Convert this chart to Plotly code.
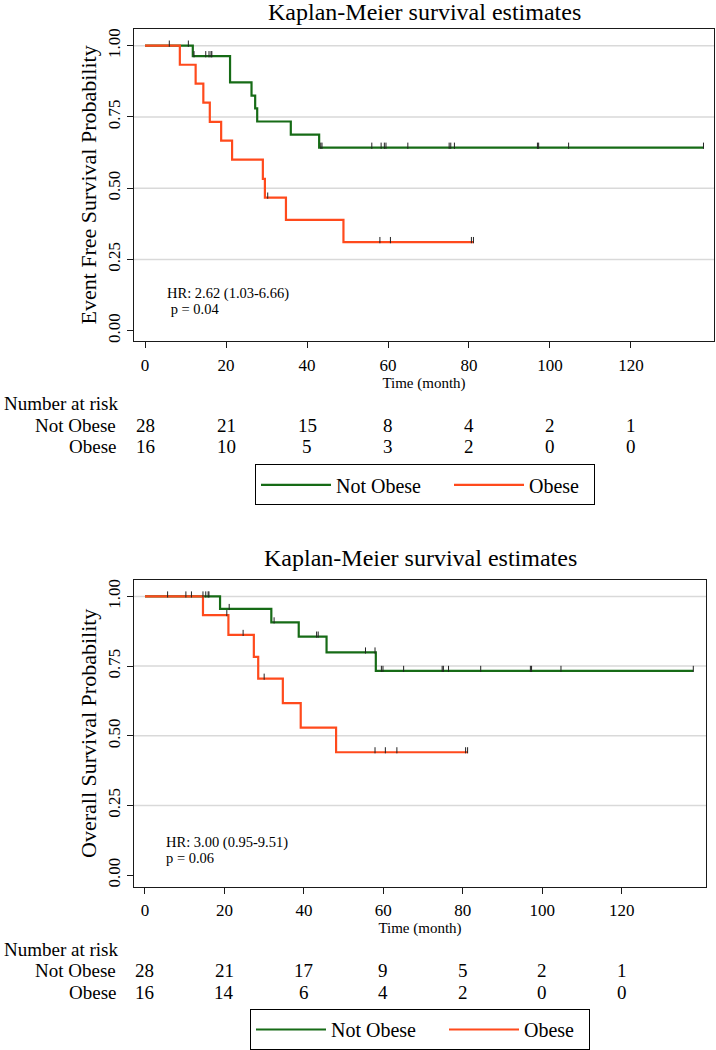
import plotly.graph_objects as go

FONT = "Liberation Serif"
GREEN = "#166b16"
RED = "#ff4a1c"
W, H = 716, 1050

# ---------------- Event free survival (top panel) ----------------
efs_notobese_time = [0, 11.8, 21.0, 26.3, 27.2, 27.7, 36.0, 43.0, 137.9]
efs_notobese_surv = [1.0, 0.963, 0.871, 0.825, 0.780, 0.734, 0.688, 0.642, 0.642]
efs_notobese_censor = [10.7, 12.1, 15.0, 15.8, 16.3, 16.5, 43.4, 43.7, 56.0, 58.3, 59.1, 59.5,
                       64.9, 75.1, 75.5, 76.4, 96.9, 97.2, 104.6, 137.9]

efs_obese_time = [0, 8.6, 12.5, 14.4, 16.0, 18.8, 21.5, 29.1, 29.6, 34.8, 49.0, 81.1]
efs_obese_surv = [1.0, 0.933, 0.867, 0.800, 0.733, 0.667, 0.600, 0.533, 0.467, 0.389, 0.311, 0.311]
efs_obese_censor = [6.0, 30.3, 58.0, 60.6, 80.6, 81.1]

efs_risk_notobese = [28, 21, 15, 8, 4, 2, 1]
efs_risk_obese = [16, 10, 5, 3, 2, 0, 0]
efs_hr_text = ["HR: 2.62 (1.03-6.66)", " p = 0.04"]

# ---------------- Overall survival (bottom panel) ----------------
os_notobese_time = [0, 18.9, 31.8, 38.7, 45.7, 58.1, 138.0]
os_notobese_surv = [1.0, 0.955, 0.907, 0.856, 0.799, 0.733, 0.733]
os_notobese_censor = [10.3, 11.7, 14.6, 15.3, 15.9, 16.1, 21.2, 32.5, 43.2, 43.6, 55.5, 57.9,
                      59.5, 59.9, 65.1, 74.8, 75.1, 76.4, 84.5, 97.0, 97.3, 104.7, 138.0]

os_obese_time = [0, 14.6, 21.0, 27.4, 28.5, 34.7, 39.2, 48.1, 81.2]
os_obese_surv = [1.0, 0.933, 0.862, 0.783, 0.705, 0.617, 0.529, 0.441, 0.441]
os_obese_censor = [5.7, 20.6, 24.7, 30.0, 57.9, 60.5, 63.4, 80.7, 81.2]

os_risk_notobese = [28, 21, 17, 9, 5, 2, 1]
os_risk_obese = [16, 14, 6, 4, 2, 0, 0]
os_hr_text = ["HR: 3.00 (0.95-9.51)", "p = 0.06"]

risk_times = [0, 20, 40, 60, 80, 100, 120]
x_ticks = [0, 20, 40, 60, 80, 100, 120]
y_ticks = [0, 0.25, 0.5, 0.75, 1.0]
y_ticklabels = ["0.00", "0.25", "0.50", "0.75", "1.00"]
group_names = ["Not Obese", "Obese"]
titles = ["Kaplan-Meier survival estimates", "Kaplan-Meier survival estimates"]
y_titles = ["Event Free Survival Probability", "Overall Survival Probability"]
x_title = "Time (month)"


def step_value(times, surv, t):
    v = surv[0]
    for ti, si in zip(times, surv):
        if ti <= t:
            v = si
        else:
            break
    return v


def censor_segments(times, surv, censors):
    xs, ys = [], []
    for c in censors:
        s = step_value(times, surv, c)
        xs += [c, c, None]
        ys += [s - 0.004, s + 0.018, None]
    return xs, ys


fig = go.Figure()

panels = [
    dict(xa="x", ya="y", legend="legend",
         curves=[(efs_notobese_time, efs_notobese_surv, efs_notobese_censor, GREEN),
                 (efs_obese_time, efs_obese_surv, efs_obese_censor, RED)]),
    dict(xa="x2", ya="y2", legend="legend2",
         curves=[(os_notobese_time, os_notobese_surv, os_notobese_censor, GREEN),
                 (os_obese_time, os_obese_surv, os_obese_censor, RED)]),
]

legend_widths = [108, 60]
for p in panels:
    for i, ((t, s, c, col), name) in enumerate(zip(p["curves"], group_names)):
        fig.add_trace(go.Scatter(x=t, y=s, mode="lines", line=dict(color=col, width=2.2, shape="hv"),
                                 name=name, xaxis=p["xa"], yaxis=p["ya"], legend=p["legend"],
                                 legendwidth=legend_widths[i], hoverinfo="skip"))
    for (t, s, c, col) in p["curves"]:
        cx, cy = censor_segments(t, s, c)
        fig.add_trace(go.Scatter(x=cx, y=cy, mode="lines", line=dict(color="#222222", width=1),
                                 showlegend=False, xaxis=p["xa"], yaxis=p["ya"], hoverinfo="skip"))

# geometry (pixels)
top = dict(left=134, right=714, top=29, bottom=343)
bot = dict(left=134, right=706, top=583, bottom=892)


def xdom(g):
    return [g["left"] / W, g["right"] / W]


def ydom(g):
    return [1 - g["bottom"] / H, 1 - g["top"] / H]


axis_common = dict(showline=True, linecolor="#1a1a1a", linewidth=1.3, mirror=True,
                   ticks="outside", ticklen=6, tickcolor="#1a1a1a", showgrid=False, zeroline=False,
                   tickfont=dict(family=FONT, size=17, color="black"))

fig.update_layout(
    width=W, height=H, margin=dict(l=0, r=0, t=0, b=0),
    plot_bgcolor="white", paper_bgcolor="white",
    font=dict(family=FONT, color="black"),
    xaxis=dict(domain=xdom(top), range=[-2.72, 140.5], tickvals=x_ticks, anchor="y",
               ticklabelstandoff=2,
               title=dict(text=x_title, font=dict(family=FONT, size=15), standoff=0), **axis_common),
    yaxis=dict(domain=ydom(top), range=[-0.036, 1.059], tickvals=y_ticks, ticktext=y_ticklabels,
               tickangle=-90, anchor="x", ticklabelstandoff=0,
               title=dict(text=y_titles[0], font=dict(family=FONT, size=22), standoff=2), **axis_common),
    xaxis2=dict(domain=xdom(bot), range=[-2.76, 141.2], tickvals=x_ticks, anchor="y2",
                ticklabelstandoff=2,
                title=dict(text=x_title, font=dict(family=FONT, size=15), standoff=0), **axis_common),
    yaxis2=dict(domain=ydom(bot), range=[-0.042, 1.060], tickvals=y_ticks, ticktext=y_ticklabels,
                tickangle=-90, anchor="x2", ticklabelstandoff=0,
                title=dict(text=y_titles[1], font=dict(family=FONT, size=22), standoff=2), **axis_common),
    legend=dict(orientation="h", x=255 / W, xanchor="left", y=1 - 467 / H, yanchor="top",
                bordercolor="black", borderwidth=1, bgcolor="white", itemwidth=70,
                font=dict(family=FONT, size=20, color="black")),
    legend2=dict(orientation="h", x=250 / W, xanchor="left", y=1 - 1015 / H, yanchor="top",
                 bordercolor="black", borderwidth=1, bgcolor="white", itemwidth=70,
                 font=dict(family=FONT, size=20, color="black")),
)

# grid lines at 0.25 .. 1.00
for ya, xa in [("y", "x"), ("y2", "x2")]:
    for v in y_ticks[1:]:
        fig.add_shape(type="line", xref=f"{xa} domain", yref=ya, x0=0, x1=1, y0=v, y1=v,
                      line=dict(color="#d9d9d9", width=1.5), layer="below")

annotations = []
# titles
for g, ttl, off in [(top, titles[0], 17), (bot, titles[1], 22)]:
    annotations.append(dict(text=ttl, xref="paper", yref="paper",
                            x=(g["left"] + g["right"]) / 2 / W, y=1 - (g["top"] - off) / H,
                            showarrow=False, font=dict(family=FONT, size=24), yanchor="middle"))

# HR text
for xa, ya, hr, ys in [("x", "y", efs_hr_text, [0.130, 0.076]), ("x2", "y2", os_hr_text, [0.117, 0.062])]:
    for txt, yv in zip(hr, ys):
        annotations.append(dict(text=txt, xref=xa, yref=ya, x=4.9, y=yv, xanchor="left",
                                yanchor="middle", showarrow=False, font=dict(family=FONT, size=14.5)))

# number at risk tables
for xa, g, rn, ro in [("x", top, efs_risk_notobese, efs_risk_obese),
                      ("x2", bot, os_risk_notobese, os_risk_obese)]:
    y0 = g["bottom"] + 63
    annotations.append(dict(text="Number at risk", xref="paper", yref="paper", x=2 / W, y=1 - y0 / H,
                            xanchor="left", yanchor="middle", showarrow=False,
                            font=dict(family=FONT, size=19)))
    for row, (name, vals) in enumerate(zip(group_names, [rn, ro])):
        yy = 1 - (y0 + 21.5 + 21.5 * row) / H
        annotations.append(dict(text=name, xref="paper", yref="paper", x=118 / W, y=yy,
                                xanchor="right", yanchor="middle", showarrow=False,
                                font=dict(family=FONT, size=19)))
        for t, v in zip(risk_times, vals):
            annotations.append(dict(text=str(v), xref=xa, yref="paper", x=t, y=yy,
                                    xanchor="center", yanchor="middle", showarrow=False,
                                    font=dict(family=FONT, size=19)))

fig.update_layout(annotations=annotations)
fig.write_html("out.html", config={"displayModeBar": False},
               post_script="document.body.style.margin='0px';")
